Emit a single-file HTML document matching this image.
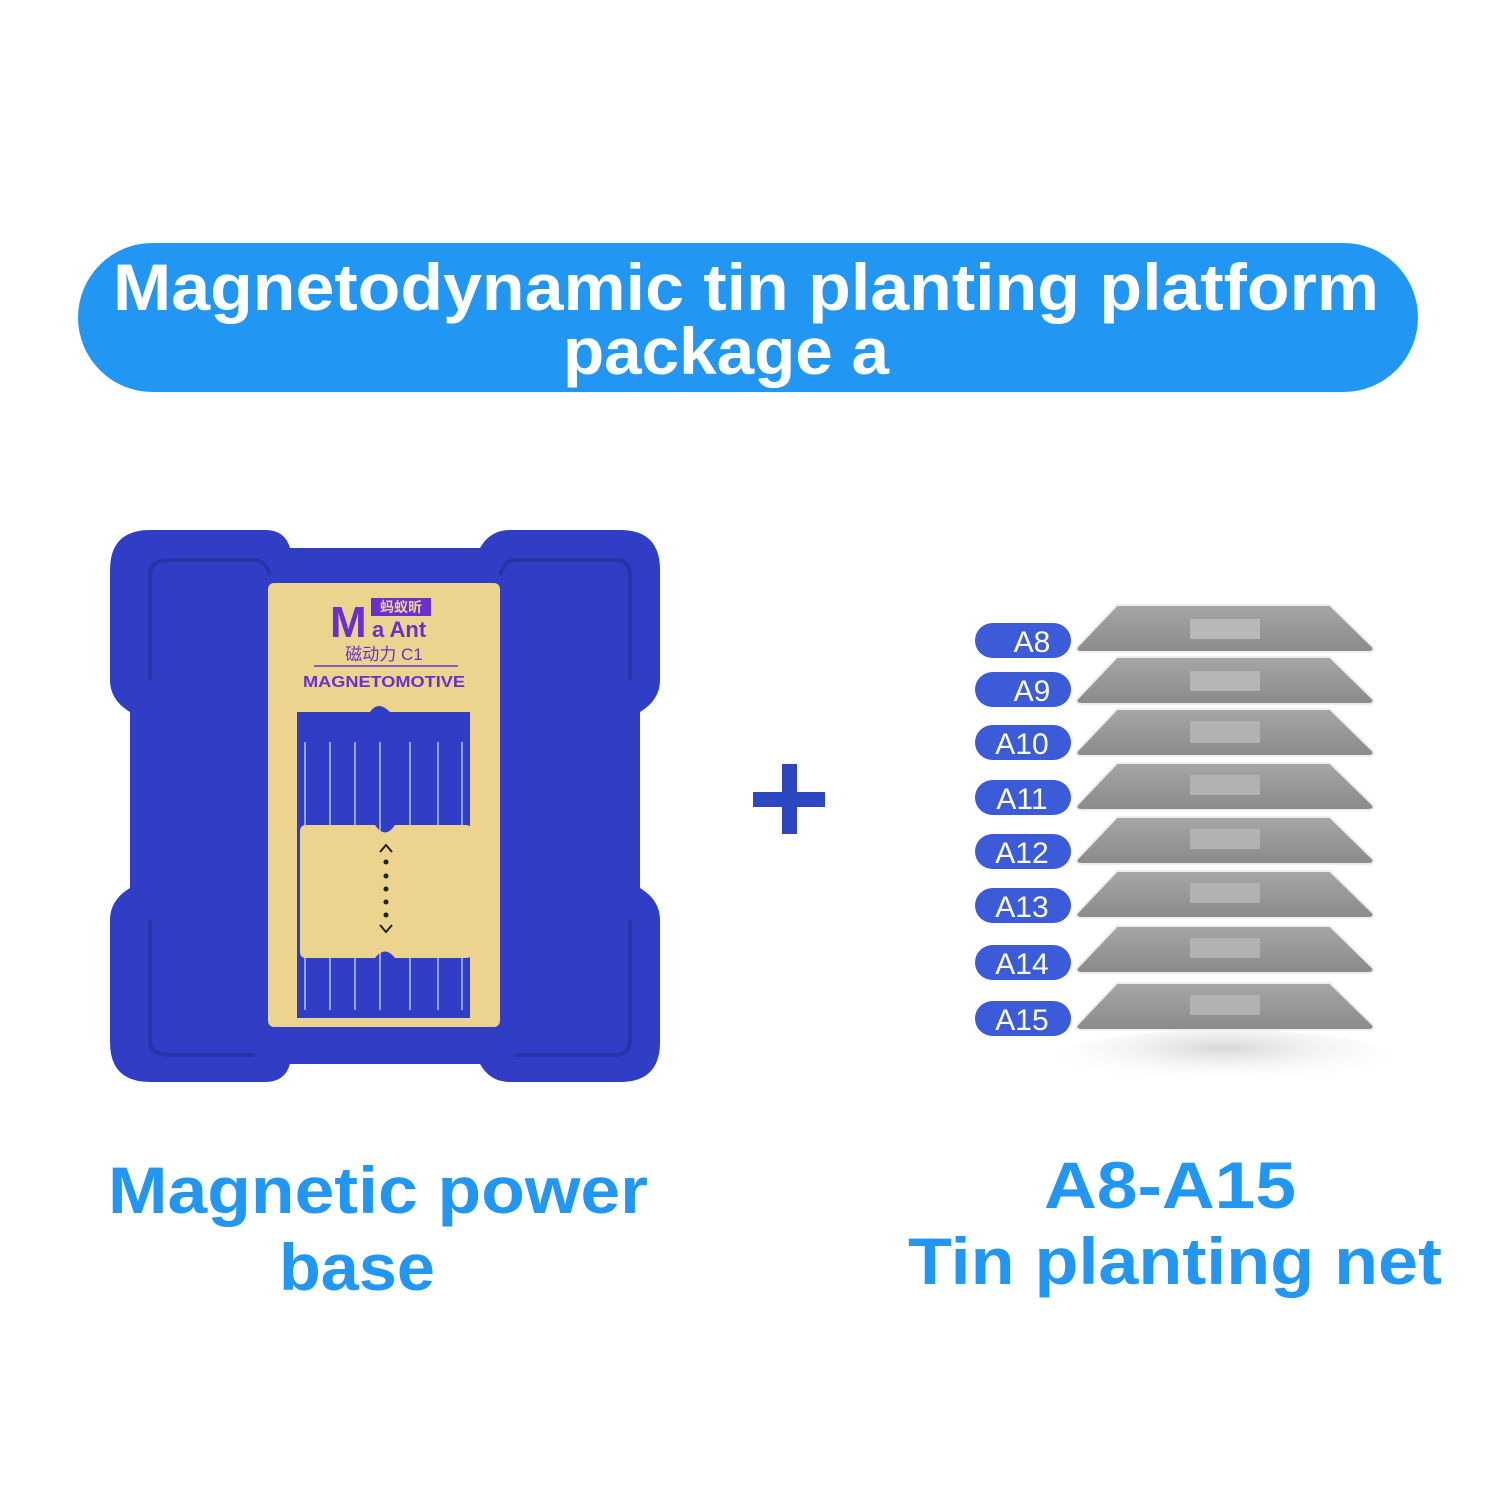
<!DOCTYPE html>
<html><head><meta charset="utf-8"><style>
html,body{margin:0;padding:0;background:#fff;}
svg{display:block}
text{font-family:"Liberation Sans","Noto Sans CJK SC",sans-serif;font-weight:bold}
text.n{font-weight:normal}
</style></head><body>
<svg width="1500" height="1500" viewBox="0 0 1500 1500" xmlns="http://www.w3.org/2000/svg">
<defs>
<linearGradient id="pg" x1="0" y1="0" x2="0" y2="1"><stop offset="0" stop-color="#a6a6a6"/><stop offset="1" stop-color="#8a8a8a"/></linearGradient>
<radialGradient id="sh" cx="0.5" cy="0.3" r="0.6"><stop offset="0" stop-color="#bbb" stop-opacity="0.6"/><stop offset="1" stop-color="#fff" stop-opacity="0"/></radialGradient>
</defs>
<rect x="78" y="243" width="1340" height="149" rx="74.5" fill="#2196f3"/>
<text x="746" y="310" font-size="66" fill="#fff" text-anchor="middle" textLength="1266" lengthAdjust="spacingAndGlyphs">Magnetodynamic tin planting platform</text>
<text x="726" y="374" font-size="66" fill="#fff" text-anchor="middle" textLength="326" lengthAdjust="spacingAndGlyphs">package a</text>

<path d="M150 530 L265 530 Q285 530 290 548 L480 548 Q490 530 510 530 L620 530 Q660 530 660 570 L660 680 Q660 700 640 712 L640 888 Q660 900 660 920 L660 1042 Q660 1082 620 1082 L510 1082 Q490 1082 480 1064 L290 1064 Q285 1082 265 1082 L150 1082 Q110 1082 110 1042 L110 920 Q110 900 130 888 L130 712 Q110 700 110 680 L110 570 Q110 530 150 530 Z" fill="#2f3ec4"/>
<path d="M170 560 L255 560 Q265 560 270 575 M500 575 Q505 560 515 560 L615 560 Q630 560 630 575 L630 680 M630 920 L630 1040 Q630 1055 615 1055 L515 1055 M255 1055 L170 1055 Q150 1055 150 1040 L150 920 M150 680 L150 575 Q150 560 170 560" fill="none" stroke="#2535a8" stroke-width="4"/>
<rect x="268" y="583" width="232" height="444" rx="6" fill="#ecd48e"/>
<path d="M297 712 L370 712 Q378 700 390 712 L470 712 L470 1018 L297 1018 Z" fill="#2f3ec4"/>
<g stroke="#8fa3f0" stroke-width="2"><line x1="305" y1="742" x2="305" y2="1010"/><line x1="330" y1="742" x2="330" y2="1010"/><line x1="355" y1="742" x2="355" y2="1010"/><line x1="380" y1="742" x2="380" y2="1010"/><line x1="410" y1="742" x2="410" y2="1010"/><line x1="438" y1="742" x2="438" y2="1010"/><line x1="462" y1="742" x2="462" y2="1010"/></g>
<path d="M306 825 L375 825 Q385 840 395 825 L466 825 Q472 825 472 832 L472 952 Q472 958 466 958 L395 958 Q385 945 375 958 L306 958 Q300 958 300 952 L300 832 Q300 825 306 825 Z" fill="#ecd48e"/>
<g fill="#222"><circle cx="386" cy="862" r="2.5"/><circle cx="386" cy="876" r="2.5"/><circle cx="386" cy="889" r="2.5"/><circle cx="386" cy="902" r="2.5"/><circle cx="386" cy="915" r="2.5"/><path d="M380 852 L386 845 L392 852" fill="none" stroke="#222" stroke-width="2"/><path d="M380 925 L386 932 L392 925" fill="none" stroke="#222" stroke-width="2"/></g>
<text x="330" y="637" font-size="44" fill="#6a2fd0">M</text>
<rect x="371" y="598" width="60" height="18" fill="#6a2fd0"/>
<text x="401" y="612" font-size="14" fill="#ecd48e" text-anchor="middle">蚂蚁昕</text>
<text x="372" y="637" font-size="22" fill="#6a2fd0">a Ant</text>
<text x="384" y="660" font-size="17" fill="#6a2fd0" text-anchor="middle" class="n">磁动力 C1</text>
<line x1="314" y1="666" x2="458" y2="666" stroke="#6a2fd0" stroke-width="1.5"/>
<text x="384" y="687" font-size="16" fill="#6a2fd0" text-anchor="middle" textLength="162" lengthAdjust="spacingAndGlyphs">MAGNETOMOTIVE</text>

<rect x="753" y="792" width="72" height="15" fill="#2d46c2"/>
<rect x="782" y="764" width="15" height="70" fill="#2d46c2"/>

<ellipse cx="1225" cy="1060" rx="170" ry="30" fill="url(#sh)"/>
<g>
<g transform="translate(0,605)"><path d="M1117 0 L1330 0 L1373 42 Q1375 47 1368 47 L1082 47 Q1075 47 1077 42 Z" fill="url(#pg)" stroke="#eee" stroke-width="2"/><rect x="1190" y="14" width="70" height="20" fill="#b8b8b8"/></g>
<g transform="translate(0,657)"><path d="M1117 0 L1330 0 L1373 42 Q1375 47 1368 47 L1082 47 Q1075 47 1077 42 Z" fill="url(#pg)" stroke="#eee" stroke-width="2"/><rect x="1190" y="14" width="70" height="20" fill="#b5b5b5"/></g>
<g transform="translate(0,709)"><path d="M1117 0 L1330 0 L1373 42 Q1375 47 1368 47 L1082 47 Q1075 47 1077 42 Z" fill="url(#pg)" stroke="#eee" stroke-width="2"/><rect x="1190" y="12" width="70" height="22" fill="#b2b2b2"/></g>
<g transform="translate(0,763)"><path d="M1117 0 L1330 0 L1373 42 Q1375 47 1368 47 L1082 47 Q1075 47 1077 42 Z" fill="url(#pg)" stroke="#eee" stroke-width="2"/><rect x="1190" y="12" width="70" height="20" fill="#b2b2b2"/></g>
<g transform="translate(0,817)"><path d="M1117 0 L1330 0 L1373 42 Q1375 47 1368 47 L1082 47 Q1075 47 1077 42 Z" fill="url(#pg)" stroke="#eee" stroke-width="2"/><rect x="1190" y="12" width="70" height="20" fill="#b2b2b2"/></g>
<g transform="translate(0,871)"><path d="M1117 0 L1330 0 L1373 42 Q1375 47 1368 47 L1082 47 Q1075 47 1077 42 Z" fill="url(#pg)" stroke="#eee" stroke-width="2"/><rect x="1190" y="12" width="70" height="20" fill="#b2b2b2"/></g>
<g transform="translate(0,926)"><path d="M1117 0 L1330 0 L1373 42 Q1375 47 1368 47 L1082 47 Q1075 47 1077 42 Z" fill="url(#pg)" stroke="#eee" stroke-width="2"/><rect x="1190" y="12" width="70" height="20" fill="#b2b2b2"/></g>
<g transform="translate(0,983)"><path d="M1117 0 L1330 0 L1373 42 Q1375 47 1368 47 L1082 47 Q1075 47 1077 42 Z" fill="url(#pg)" stroke="#eee" stroke-width="2"/><rect x="1190" y="12" width="70" height="20" fill="#b2b2b2"/></g>

<g fill="#3b5bd9"><rect x="975" y="623" width="96" height="35" rx="17.5"/><rect x="975" y="672" width="96" height="35" rx="17.5"/><rect x="975" y="725" width="96" height="35" rx="17.5"/><rect x="975" y="780" width="96" height="35" rx="17.5"/><rect x="975" y="834" width="96" height="35" rx="17.5"/><rect x="975" y="888" width="96" height="35" rx="17.5"/><rect x="975" y="945" width="96" height="35" rx="17.5"/><rect x="975" y="1001" width="96" height="35" rx="17.5"/></g>
<g fill="#fff" text-anchor="middle" font-size="30">
<text class="n" x="1032" y="652">A8</text><text class="n" x="1032" y="701">A9</text><text class="n" x="1022" y="754">A10</text><text class="n" x="1022" y="809">A11</text><text class="n" x="1022" y="863">A12</text><text class="n" x="1022" y="917">A13</text><text class="n" x="1022" y="974">A14</text><text class="n" x="1022" y="1030">A15</text>
</g>
</g>

<g fill="#2196f3" font-size="66" text-anchor="middle">
<text x="378" y="1213" textLength="540" lengthAdjust="spacingAndGlyphs">Magnetic power</text>
<text x="357" y="1290" textLength="156" lengthAdjust="spacingAndGlyphs">base</text>
<text x="1170" y="1208" textLength="252" lengthAdjust="spacingAndGlyphs">A8-A15</text>
<text x="1175" y="1284" textLength="534" lengthAdjust="spacingAndGlyphs">Tin planting net</text>
</g>
</svg>
</body></html>
